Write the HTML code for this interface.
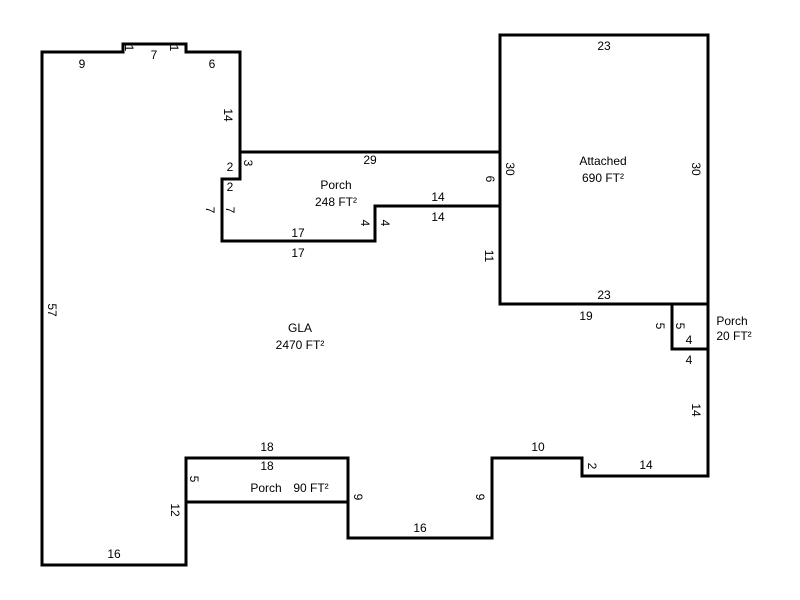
<!DOCTYPE html>
<html><head><meta charset="utf-8"><style>html,body{margin:0;padding:0;background:#fff}svg{display:block}</style></head>
<body>
<svg width="800" height="600" xmlns="http://www.w3.org/2000/svg" font-family="Liberation Sans, Arial, sans-serif" font-size="12" fill="#000">
<g fill="none" stroke="#000" stroke-width="3" stroke-linejoin="miter">
<path d="M42,52 H123 V44 H186 V52 H240 V179 H222 V241 H375 V206 H500 V304 H708 V476 H582 V458 H492 V538 H348 V458 H186 V565 H42 Z"/>
<path d="M240,152 H500"/>
<rect x="500" y="35" width="208" height="269"/>
<rect x="672" y="304" width="36" height="45"/>
<path d="M186,502 H348"/>
</g>
<g text-anchor="middle">
<text x="82" y="68">9</text>
<text x="154" y="59">7</text>
<text x="212" y="68">6</text>
<text x="370" y="164">29</text>
<text x="230" y="171">2</text>
<text x="230" y="191">2</text>
<text x="438" y="201">14</text>
<text x="438" y="221">14</text>
<text x="298" y="237">17</text>
<text x="298" y="257">17</text>
<text x="604" y="50">23</text>
<text x="604" y="299">23</text>
<text x="586" y="320">19</text>
<text x="689" y="344">4</text>
<text x="689" y="364">4</text>
<text x="646" y="469">14</text>
<text x="538" y="451">10</text>
<text x="420" y="532">16</text>
<text x="267" y="451">18</text>
<text x="267" y="470">18</text>
<text x="114" y="558">16</text>
<text x="336" y="189">Porch</text>
<text x="336" y="206">248 FT²</text>
<text x="603" y="165">Attached</text>
<text x="603" y="182">690 FT²</text>
<text x="300" y="332">GLA</text>
<text x="300" y="349">2470 FT²</text>
<text x="732" y="325">Porch</text>
<text x="734" y="340">20 FT²</text>
<text x="266" y="492">Porch</text>
<text x="311" y="492">90 FT²</text>
</g>
<g text-anchor="middle">
<text transform="translate(129,48) rotate(90)" dy="4">1</text>
<text transform="translate(174,48) rotate(90)" dy="4">1</text>
<text transform="translate(228,115) rotate(90)" dy="4">14</text>
<text transform="translate(248,163) rotate(90)" dy="4">3</text>
<text transform="translate(210,210) rotate(90)" dy="4">7</text>
<text transform="translate(230,210) rotate(90)" dy="4">7</text>
<text transform="translate(365,223) rotate(90)" dy="4">4</text>
<text transform="translate(385,223) rotate(90)" dy="4">4</text>
<text transform="translate(490,179) rotate(90)" dy="4">6</text>
<text transform="translate(510,169) rotate(90)" dy="4">30</text>
<text transform="translate(696,169) rotate(90)" dy="4">30</text>
<text transform="translate(489,256) rotate(90)" dy="4">11</text>
<text transform="translate(52,310) rotate(90)" dy="4">57</text>
<text transform="translate(660,326) rotate(90)" dy="4">5</text>
<text transform="translate(680,326) rotate(90)" dy="4">5</text>
<text transform="translate(696,410) rotate(90)" dy="4">14</text>
<text transform="translate(592,466) rotate(90)" dy="4">2</text>
<text transform="translate(194,479) rotate(90)" dy="4">5</text>
<text transform="translate(175,510) rotate(90)" dy="4">12</text>
<text transform="translate(358,497) rotate(90)" dy="4">9</text>
<text transform="translate(480,497) rotate(90)" dy="4">9</text>
</g>
</svg>
</body></html>
